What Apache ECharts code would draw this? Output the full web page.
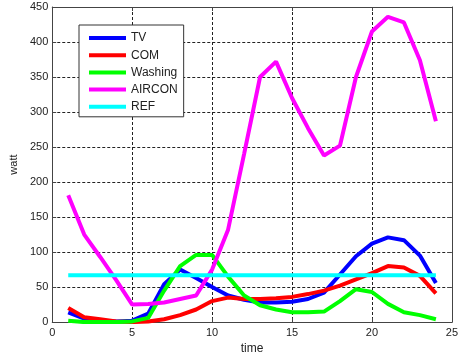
<!DOCTYPE html>
<html>
<head>
<meta charset="utf-8">
<script src="https://cdn.jsdelivr.net/npm/echarts@6/dist/echarts.min.js"></script>
<style>
  html, body { margin: 0; padding: 0; background: #fff; }
  #chartmain { width: 461px; height: 360px; }
</style>
</head>
<body>
<div id="chartmain"></div>
<script>
var hours = [1, 2, 3, 4, 5, 6, 7, 8, 9, 10, 11, 12, 13, 14, 15, 16, 17, 18, 19, 20, 21, 22, 23, 24],
data_tv = [14, 5, 2, 1, 2, 12, 54, 75, 63, 50, 38, 32, 28, 28, 29, 33, 42, 68, 94, 112, 121, 117, 95, 56],
data_com = [20, 7, 4, 1, 0, 1, 4, 10, 18, 30, 35, 33, 33, 34, 36, 40, 45, 52, 61, 70, 80, 78, 66, 41],
data_washing = [2, 0, 0, 0, 1, 6, 45, 80, 96, 96, 65, 38, 24, 18, 14, 14, 15, 30, 47, 43, 26, 14, 10, 4],
data_aircon = [181, 125, 93, 60, 25, 26, 28, 33, 38, 75, 132, 240, 350, 372, 320, 277, 238, 252, 350, 415, 436, 428, 374, 287],
data_ref = [67, 67, 67, 67, 67, 67, 67, 67, 67, 67, 67, 67, 67, 67, 67, 67, 67, 67, 67, 67, 67, 67, 67, 67],
names = ['TV', 'COM', 'Washing', 'AIRCON', 'REF'],
colors = ['#0000ff', '#ff0000', '#00ff00', '#ff00ff', '#00ffff'];

var values = [data_tv, data_com, data_washing, data_aircon, data_ref];

function pairs(ys) {
    return hours.map(function (h, i) { return [h, ys[i]]; });
}

var font = 'Liberation Sans, Arial, sans-serif';

var series = names.map(function (n, i) {
    return {
        name: n,
        type: 'line',
        data: pairs(values[i]),
        symbol: 'none',
        showSymbol: false,
        lineStyle: { color: colors[i], width: 4 },
        itemStyle: { color: colors[i] },
        animation: false
    };
});

var gridLine = { show: true, lineStyle: { color: '#222', type: [3, 2], width: 1 } };
var edge = { show: true, onZero: false, lineStyle: { color: '#444', width: 1 } };

option = {
    animation: false,
    grid: { left: 50, right: 5, top: 7, bottom: 33 },
    legend: {
        data: names,
        orient: 'vertical',
        left: 79,
        top: 25,
        itemWidth: 37,
        itemHeight: 14,
        itemGap: 5.2,
        padding: [7, 6, 4, 8],
        backgroundColor: '#fff',
        borderColor: '#333',
        borderWidth: 1,
        selectedMode: false,
        itemStyle: { opacity: 0 },
        lineStyle: { width: 4 },
        textStyle: { fontSize: 12, color: '#222', fontFamily: font }
    },
    xAxis: [{
        type: 'value',
        min: 0,
        max: 25,
        interval: 5,
        name: 'time',
        nameLocation: 'middle',
        nameGap: 20,
        nameTextStyle: { fontSize: 12, color: '#222', fontFamily: font },
        axisLine: edge,
        axisTick: { show: true, inside: true, length: 4, lineStyle: { color: '#444' } },
        axisLabel: { fontSize: 11, color: '#222', margin: 5, fontFamily: font },
        splitLine: gridLine
    }, {
        type: 'value',
        position: 'top',
        min: 0,
        max: 25,
        interval: 5,
        axisLine: edge,
        axisTick: { show: true, inside: true, length: 4, lineStyle: { color: '#444' } },
        axisLabel: { show: false },
        splitLine: { show: false }
    }],
    yAxis: [{
        type: 'value',
        min: 0,
        max: 450,
        interval: 50,
        name: 'watt',
        nameLocation: 'middle',
        nameGap: 31,
        nameTextStyle: { fontSize: 11, color: '#222', fontFamily: font },
        axisLine: edge,
        axisTick: { show: true, inside: true, length: 4, lineStyle: { color: '#444' } },
        axisLabel: { fontSize: 11, color: '#222', margin: 4, fontFamily: font },
        splitLine: gridLine
    }, {
        type: 'value',
        position: 'right',
        min: 0,
        max: 450,
        interval: 50,
        axisLine: edge,
        axisTick: { show: true, inside: true, length: 4, lineStyle: { color: '#444' } },
        axisLabel: { show: false },
        splitLine: { show: false }
    }],
    series: series
};

//初始化echarts实例
var myChart = echarts.init(document.getElementById('chartmain'));
myChart.setOption(option);
</script>
</body>
</html>
